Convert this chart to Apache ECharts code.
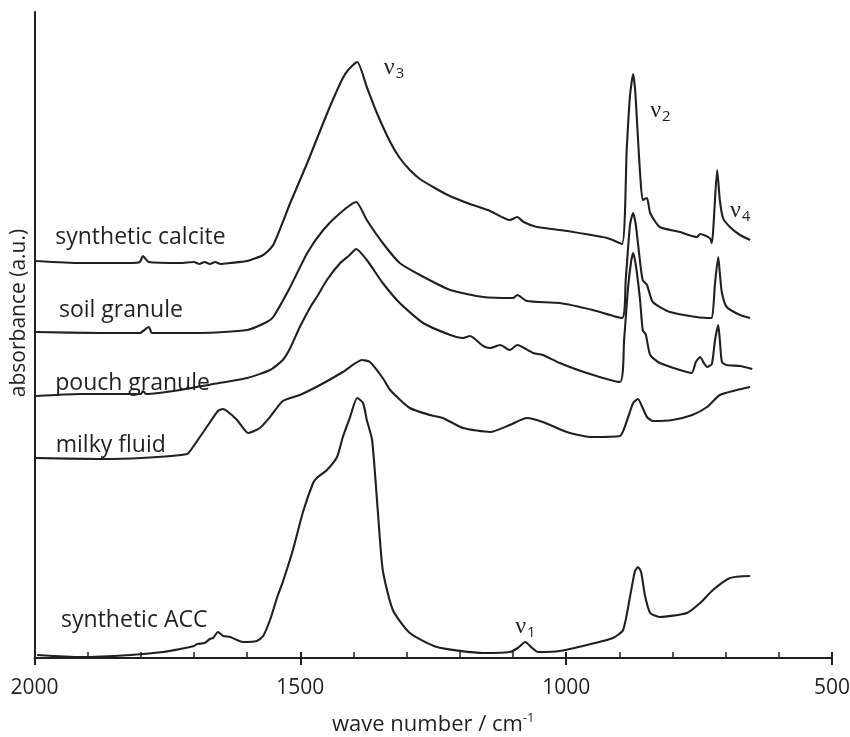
<!DOCTYPE html>
<html>
<head>
<meta charset="utf-8">
<script src="https://cdn.jsdelivr.net/npm/echarts@6/dist/echarts.min.js"></script>
<style>
  html, body { margin: 0; padding: 0; background: #fff; }
  #chart { width: 850px; height: 737px; }
</style>
</head>
<body>
<div id="chart"></div>
<script>
// spectra: [wave number (cm-1), absorbance (a.u., offset)]
const syntheticCalcite = [
  [1997, 3.97], [1914, 3.95], [1820, 3.95], [1802, 3.96], [1796, 4.02], [1785, 3.96],
  [1726, 3.95], [1700, 3.96], [1690, 3.94], [1680, 3.96], [1670, 3.94], [1660, 3.96],
  [1650, 3.94], [1632, 3.95], [1600, 3.97], [1570, 4.03], [1551, 4.13], [1519, 4.55],
  [1487, 4.95], [1457, 5.35], [1439, 5.58], [1420, 5.80], [1410, 5.88], [1393, 5.96],
  [1375, 5.71], [1356, 5.45], [1331, 5.16], [1313, 5.00], [1294, 4.88], [1275, 4.79],
  [1247, 4.70], [1219, 4.62], [1181, 4.54], [1143, 4.47], [1106, 4.38], [1092, 4.41],
  [1080, 4.36], [1055, 4.31], [1012, 4.28], [923, 4.20], [895, 4.14], [886, 5.10],
  [880, 5.62], [874, 5.84], [870, 5.66], [865, 5.20], [861, 4.85], [856, 4.58],
  [848, 4.60], [842, 4.45], [824, 4.31], [786, 4.26], [754, 4.21], [748, 4.24],
  [730, 4.20], [726, 4.15], [716, 4.88], [711, 4.58], [705, 4.40], [692, 4.31],
  [673, 4.23], [654, 4.18]
];
const soilGranule = [
  [1997, 3.26], [1877, 3.25], [1802, 3.25], [1785, 3.31], [1779, 3.25], [1689, 3.25],
  [1600, 3.28], [1563, 3.36], [1551, 3.41], [1519, 3.71], [1487, 4.05], [1457, 4.28],
  [1425, 4.45], [1395, 4.56], [1375, 4.38], [1345, 4.15], [1313, 3.95], [1275, 3.83],
  [1218, 3.68], [1156, 3.61], [1100, 3.60], [1092, 3.63], [1074, 3.57], [1012, 3.55],
  [950, 3.48], [895, 3.40], [888, 3.78], [880, 4.33], [874, 4.45], [869, 4.33],
  [861, 3.96], [856, 3.78], [848, 3.73], [837, 3.56], [805, 3.46], [735, 3.40],
  [726, 3.40], [720, 3.75], [714, 4.01], [711, 3.85], [707, 3.65], [698, 3.51],
  [673, 3.43], [654, 3.40]
];
const pouchGranule = [
  [1997, 2.62], [1914, 2.64], [1800, 2.64], [1796, 2.67], [1790, 2.64], [1726, 2.68],
  [1664, 2.74], [1600, 2.80], [1557, 2.88], [1533, 2.98], [1519, 3.10], [1501, 3.31],
  [1480, 3.52], [1469, 3.61], [1450, 3.78], [1425, 3.95], [1407, 4.03], [1395, 4.09],
  [1375, 3.98], [1345, 3.75], [1313, 3.55], [1269, 3.35], [1218, 3.23], [1194, 3.20],
  [1181, 3.22], [1156, 3.12], [1143, 3.10], [1124, 3.13], [1106, 3.08], [1092, 3.13],
  [1062, 3.05], [1044, 3.03], [1012, 2.95], [961, 2.85], [899, 2.76], [891, 3.18],
  [884, 3.68], [878, 3.96], [874, 4.05], [869, 3.93], [861, 3.58], [856, 3.28],
  [850, 3.23], [842, 3.03], [824, 2.95], [786, 2.88], [764, 2.85], [756, 2.96],
  [748, 3.01], [741, 2.95], [735, 2.91], [726, 2.94], [720, 3.18], [714, 3.33],
  [711, 3.18], [707, 2.96], [698, 2.93], [673, 2.92], [650, 2.89]
];
const milkyFluid = [
  [1999, 2.00], [1877, 1.99], [1800, 2.00], [1713, 2.04], [1702, 2.11], [1676, 2.31],
  [1655, 2.47], [1646, 2.49], [1638, 2.47], [1619, 2.38], [1598, 2.25], [1576, 2.30],
  [1557, 2.41], [1533, 2.57], [1501, 2.63], [1463, 2.73], [1420, 2.86], [1384, 2.98],
  [1369, 2.96], [1345, 2.80], [1331, 2.68], [1294, 2.50], [1256, 2.43], [1232, 2.40],
  [1194, 2.30], [1143, 2.26], [1106, 2.33], [1074, 2.40], [1044, 2.36], [999, 2.26],
  [955, 2.21], [899, 2.22], [884, 2.40], [874, 2.55], [865, 2.59], [856, 2.50],
  [848, 2.41], [837, 2.37], [800, 2.38], [763, 2.43], [735, 2.51], [711, 2.63],
  [679, 2.68], [654, 2.71]
];
const syntheticACC = [
  [1995, 0.03], [1914, 0.01], [1820, 0.03], [1758, 0.06], [1726, 0.09], [1700, 0.12],
  [1694, 0.14], [1680, 0.15], [1670, 0.19], [1664, 0.20], [1655, 0.26], [1645, 0.22],
  [1632, 0.21], [1608, 0.16], [1582, 0.17], [1570, 0.22], [1557, 0.38], [1544, 0.60],
  [1533, 0.76], [1514, 1.08], [1495, 1.46], [1476, 1.75], [1469, 1.80], [1450, 1.88],
  [1431, 2.01], [1420, 2.21], [1407, 2.40], [1393, 2.60], [1382, 2.55], [1375, 2.38],
  [1365, 2.18], [1354, 1.45], [1345, 0.88], [1326, 0.48], [1294, 0.25], [1243, 0.11],
  [1156, 0.05], [1106, 0.06], [1091, 0.10], [1077, 0.16], [1064, 0.10], [1053, 0.06],
  [1012, 0.07], [961, 0.13], [912, 0.20], [893, 0.28], [880, 0.61], [871, 0.86],
  [865, 0.91], [859, 0.86], [852, 0.63], [842, 0.45], [824, 0.41], [773, 0.45],
  [748, 0.55], [724, 0.68], [692, 0.80], [654, 0.82]
];

const seriesNames = ['synthetic calcite', 'soil granule', 'pouch granule', 'milky fluid', 'synthetic ACC'];
const seriesData = [syntheticCalcite, soilGranule, pouchGranule, milkyFluid, syntheticACC];

// where each trace name sits, in chart units
const nameAnchors = [[1961, 4.21], [1954, 3.48], [1961, 2.75], [1960, 2.13], [1950, 0.38]];

// carbonate band labels
const bandLabels = ['3', '2', '4', '1'];
const bandAnchors = [[1343, 5.90], [842, 5.47], [692, 4.47], [1096, 0.31]];

const INK = '#231f20';
const FONT = 'Open Sans';

const chart = echarts.init(document.getElementById('chart'));

chart.setOption({
  animation: false,
  grid: { left: 34.5, right: 18, top: 12, bottom: 79, outerBoundsMode: 'none' },
  xAxis: [
    {
      type: 'value', min: 500, max: 2000, interval: 500, inverse: true,
      axisLine: { onZero: false, lineStyle: { color: INK, width: 2 } },
      axisTick: { inside: true, length: 6, lineStyle: { color: INK, width: 2 } },
      minorTick: { show: true, splitNumber: 5, length: 6, lineStyle: { color: INK, width: 1.5 } },
      axisLabel: { margin: 20, color: INK, fontSize: 21, fontFamily: FONT, formatter: v => String(v) },
      splitLine: { show: false },
      name: 'wave number / cm{sup|-1}',
      nameLocation: 'middle',
      nameGap: 54,
      nameTextStyle: {
        color: INK, fontSize: 22, fontFamily: FONT,
        rich: { sup: { color: INK, fontSize: 13, fontFamily: FONT, padding: [0, 0, 12, 0] } }
      }
    },
    {
      type: 'value', min: 500, max: 2000, interval: 500, inverse: true, position: 'bottom',
      axisLine: { show: false, onZero: false },
      axisTick: { length: 7, lineStyle: { color: INK, width: 2 } },
      axisLabel: { show: false },
      splitLine: { show: false }
    }
  ],
  yAxis: {
    type: 'value', min: 0, max: 6.46,
    axisLine: { show: true, onZero: false, lineStyle: { color: INK, width: 2 } },
    axisTick: { show: false },
    axisLabel: { show: false },
    splitLine: { show: false }
  },
  series: seriesData.map((d, i) => ({
    name: seriesNames[i],
    type: 'line',
    data: d,
    showSymbol: false,
    smooth: 0.2,
    lineStyle: { color: INK, width: 2.1 },
    silent: true
  }))
});

const graphics = [];
nameAnchors.forEach((a, i) => {
  const p = chart.convertToPixel({ gridIndex: 0 }, a);
  graphics.push({
    type: 'text', x: p[0], y: p[1],
    style: { text: seriesNames[i], fill: INK, fontSize: 23, fontFamily: FONT, align: 'left', verticalAlign: 'middle' }
  });
});
bandAnchors.forEach((a, i) => {
  const p = chart.convertToPixel({ gridIndex: 0 }, a);
  graphics.push({
    type: 'text', x: p[0], y: p[1],
    style: {
      text: '{nu|ν}{sub|' + bandLabels[i] + '}',
      align: 'left', verticalAlign: 'middle',
      rich: {
        nu: { fill: INK, fontSize: 24, fontFamily: 'Liberation Serif' },
        sub: { fill: INK, fontSize: 15, fontFamily: FONT, padding: [12, 0, 0, 1] }
      }
    }
  });
});
graphics.push({
  type: 'text', x: 19, y: 313, rotation: Math.PI / 2,
  style: { text: 'absorbance (a.u.)', fill: INK, fontSize: 21, fontFamily: FONT, align: 'center', verticalAlign: 'middle' }
});
chart.setOption({ graphic: graphics });
</script>
</body>
</html>
